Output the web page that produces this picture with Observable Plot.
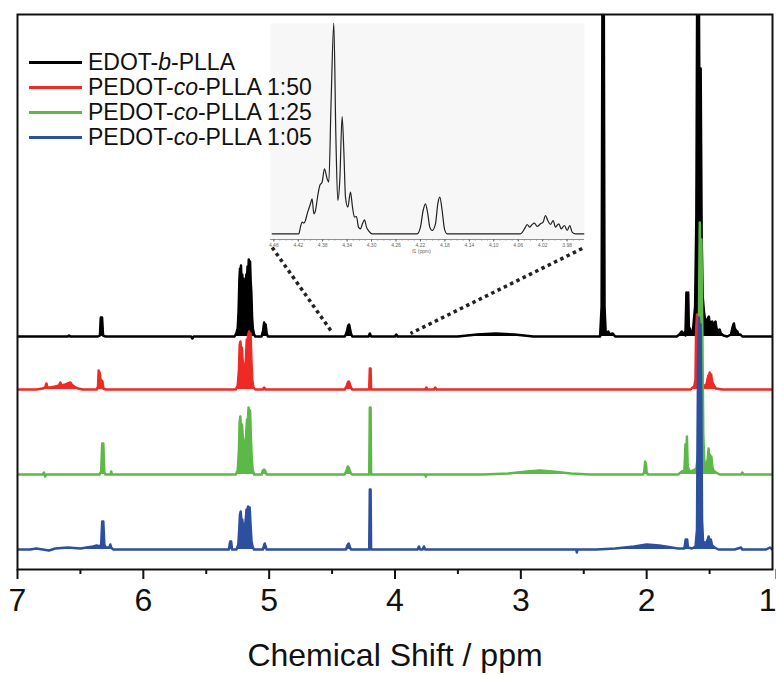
<!DOCTYPE html>
<html><head><meta charset="utf-8">
<script src="https://cdn.jsdelivr.net/npm/d3@7"></script>
<script src="https://cdn.jsdelivr.net/npm/@observablehq/plot@0.6"></script>
<style>
body{margin:0;background:#fff;}
#wrap{position:relative;width:776px;height:675px;font-family:"Liberation Sans",Arial,sans-serif;}
#inset{position:absolute;left:262px;top:18px;}
#legend{position:absolute;left:29px;top:50px;}
.row{display:flex;align-items:center;height:25px;font-size:23px;color:#111;white-space:nowrap;}
.sw{width:53px;height:2.5px;margin-right:6px;}
</style></head><body>
<div id="wrap"><div id="main"></div><div id="inset"></div><div id="legend"></div></div>
<script>
// ---- data ----
const seriesLabels = ["EDOT-<i>b</i>-PLLA", "PEDOT-<i>co</i>-PLLA 1:50", "PEDOT-<i>co</i>-PLLA 1:25", "PEDOT-<i>co</i>-PLLA 1:05"];
const seriesColors = ["#000000", "#ee2a24", "#5cb947", "#2d4fa0"];
const seriesOffsets = [233, 180, 95, 20];   // stacked baseline of each spectrum
const ppmTicks = [7, 6, 5, 4, 3, 2, 1];
const ppmMinorTicks = [6.5, 5.5, 4.5, 3.5, 2.5, 1.5];

// [chemical shift (ppm), intensity above baseline]
const blackSpectrum = [[7.0,0],[6.60,0],[6.59,1],[6.58,0],[6.36,0],[6.345,1],[6.338,19],[6.328,19],[6.32,1],[6.30,0],[5.62,0],[5.61,-2],[5.60,0],
[5.275,0],[5.262,3],[5.25,8],[5.243,25],[5.237,55],[5.232,68],[5.228,45],[5.224,71],[5.219,50],[5.214,62],[5.209,45],[5.204,58],[5.198,42],[5.192,55],[5.187,48],[5.182,62],[5.177,52],[5.172,70],[5.167,60],[5.162,77],[5.157,62],[5.152,75],[5.147,55],[5.142,45],[5.136,20],[5.130,8],[5.12,2],[5.11,0],
[5.06,0],[5.048,6],[5.04,14],[5.034,10],[5.028,12],[5.02,3],[5.01,0],
[4.40,0],[4.39,2],[4.38,6],[4.372,11],[4.365,12],[4.358,8],[4.35,3],[4.34,0],
[4.21,0],[4.2,3],[4.19,0],[4.00,0],[3.99,2],[3.98,0],
[3.50,0],[3.35,2],[3.2,3],[3.05,2],[2.90,0],
[2.37,0],[2.358,30],[2.35,400],[2.342,400],[2.335,30],[2.325,2],[2.305,5],[2.295,2],[2.27,3],[2.25,0],
[1.76,0],[1.74,2],[1.722,5],[1.712,2],[1.702,4],[1.692,1],[1.684,44],[1.677,5],[1.670,44],[1.664,4],[1.656,8],[1.646,3],
[1.632,6],[1.615,30],[1.605,120],[1.597,400],[1.587,400],[1.578,150],[1.571,268],[1.563,100],[1.555,40],[1.545,25],[1.535,15],[1.525,14],[1.515,18],[1.506,20],[1.498,12],[1.49,14],[1.479,15],[1.47,11],[1.462,13],[1.453,15],[1.445,8],[1.435,6],[1.42,7],[1.41,3],[1.39,1],[1.36,0],[1.33,2],[1.318,9],[1.307,13],[1.30,8],[1.29,6],[1.28,5],[1.27,2],[1.255,2],[1.24,0],[1.0,0]];

const redSpectrum = [[7.0,0],[6.85,0],[6.80,1],[6.78,2],[6.770,6],[6.762,2],[6.74,2],[6.70,3],[6.67,4],[6.66,7],[6.65,4],[6.62,5],[6.60,6],[6.58,7],[6.57,5],[6.55,3],[6.52,1],[6.48,0],
[6.37,0],[6.36,3],[6.355,19],[6.348,17],[6.340,10],[6.332,9],[6.325,8],[6.318,1],[6.30,0],
[5.265,0],[5.25,4],[5.24,20],[5.234,45],[5.228,48],[5.222,35],[5.217,42],[5.212,30],[5.205,22],[5.198,15],[5.192,20],[5.185,30],[5.178,50],[5.172,48],[5.166,55],[5.160,58],[5.154,52],[5.148,56],[5.142,33],[5.135,10],[5.125,2],[5.11,0],
[5.05,0],[5.04,2],[5.03,0],
[4.40,0],[4.385,3],[4.375,7],[4.367,8],[4.36,6],[4.35,2],[4.34,0],
[4.205,0],[4.2,21],[4.194,21],[4.19,0],
[3.76,0],[3.75,2],[3.745,0],[3.69,0],[3.68,2],[3.67,0],
[1.65,0],[1.635,2],[1.622,3],[1.612,10],[1.607,60],[1.600,75],[1.594,70],[1.587,72],[1.58,60],[1.57,20],[1.555,5],[1.53,3],[1.52,8],[1.51,14],[1.505,10],[1.50,17],[1.494,12],[1.488,15],[1.48,8],[1.47,5],[1.46,3],[1.45,1],[1.40,0],[1.0,0]];

const greenSpectrum = [[7.0,0],[6.80,0],[6.79,2],[6.78,-2],[6.77,0],[6.35,0],[6.335,3],[6.327,31],[6.318,31],[6.31,2],[6.30,0],[6.26,0],[6.255,3],[6.25,0],
[5.265,0],[5.25,4],[5.24,25],[5.235,52],[5.229,58],[5.222,40],[5.216,50],[5.21,38],[5.203,30],[5.196,22],[5.19,28],[5.183,40],[5.176,55],[5.17,52],[5.164,67],[5.158,60],[5.152,64],[5.146,40],[5.138,15],[5.13,4],[5.12,0],
[5.06,0],[5.05,4],[5.04,5],[5.03,3],[5.02,0],
[4.40,0],[4.385,4],[4.375,8],[4.368,7],[4.36,4],[4.35,1],[4.34,0],
[4.205,0],[4.2,67],[4.194,67],[4.19,0],
[3.76,0],[3.755,-2],[3.75,0],
[3.30,0],[3.10,1],[2.95,3],[2.85,4],[2.75,3],[2.60,1],[2.45,0],
[2.03,0],[2.02,2],[2.012,13],[2.005,10],[2.0,2],[1.99,0],
[1.75,0],[1.72,3],[1.70,4],[1.692,30],[1.688,6],[1.68,38],[1.674,8],[1.665,5],[1.65,3],[1.63,4],
[1.605,6],[1.592,20],[1.585,150],[1.578,252],[1.571,200],[1.565,235],[1.558,150],[1.55,40],[1.543,15],
[1.535,8],[1.525,10],[1.515,15],[1.508,26],[1.503,14],[1.498,20],[1.492,14],[1.486,18],[1.478,8],[1.468,4],[1.45,2],[1.42,0],[1.25,0],[1.24,2],[1.23,0],[1.0,0]];

const blueSpectrum = [[7.0,0],[6.9,0],[6.85,1],[6.8,0],[6.75,-1],[6.70,1],[6.6,2],[6.5,1],[6.45,2],[6.4,3],[6.37,4],[6.35,3],[6.335,5],[6.327,28],[6.318,28],[6.31,5],[6.30,2],[6.27,2],[6.262,5],[6.255,2],[6.24,0],
[5.32,0],[5.31,8],[5.302,8],[5.295,0],
[5.26,0],[5.245,5],[5.238,20],[5.232,35],[5.226,38],[5.22,28],[5.214,30],[5.208,24],[5.2,20],[5.193,22],[5.186,30],[5.18,40],[5.174,36],[5.168,43],[5.162,40],[5.155,42],[5.148,25],[5.14,8],[5.13,2],[5.12,0],
[5.05,0],[5.035,6],[5.028,3],[5.02,0],
[4.39,0],[4.375,5],[4.368,6],[4.36,3],[4.35,0],
[4.205,0],[4.2,60],[4.194,60],[4.19,0],
[3.82,0],[3.81,3],[3.80,0],[3.78,0],[3.77,3],[3.76,0],
[2.56,0],[2.555,-3],[2.55,0],
[2.40,0],[2.25,1],[2.10,3],[2.00,5],[1.90,4],[1.80,2],[1.75,1],
[1.70,1],[1.69,10],[1.685,3],[1.678,10],[1.672,2],[1.64,1],
[1.612,3],[1.600,20],[1.592,180],[1.585,232],[1.578,215],[1.572,225],[1.566,150],[1.56,30],[1.552,8],
[1.53,6],[1.515,10],[1.508,13],[1.50,8],[1.49,10],[1.48,4],[1.46,2],[1.43,0],[1.3,0],[1.25,2],[1.24,0],[1.05,0],[1.02,2],[1.0,0]];

const spectra = [blackSpectrum, redSpectrum, greenSpectrum, blueSpectrum];

// zoom-in guide lines: [ppm1, y1, ppm2, y2] on main chart
const zoomLinks = [[4.976, 322, 4.499, 237], [2.512, 321, 3.877, 236]];

// inset: expanded 4.46–3.96 ppm region of EDOT-b-PLLA
const insetTicks = [4.46, 4.42, 4.38, 4.34, 4.30, 4.26, 4.22, 4.18, 4.14, 4.10, 4.06, 4.02, 3.98];
const insetSpectrum = [[4.4627,0],[4.4191,0],[4.4164,6.7],[4.4136,11.7],[4.4109,10.7],[4.4082,13.3],[4.4054,20],[4.4027,25],[4.40,30],[4.3973,35],[4.3945,20],[4.3918,23.3],[4.388,38.3],[4.3847,48.3],[4.3809,51.7],[4.3771,65],[4.3727,55],[4.37,51.7],[4.3662,133],[4.3618,210.7],[4.3585,100],[4.3553,33.3],[4.352,53.3],[4.3482,117.3],[4.3454,83.3],[4.3427,36.7],[4.3389,26.7],[4.3345,41.7],[4.3312,26.7],[4.328,16.7],[4.3247,17.3],[4.3214,6.7],[4.3182,5],[4.3149,10],[4.3116,14],[4.3083,6.7],[4.3045,2.7],[4.2991,0],
[4.2254,0],[4.22,6.7],[4.2156,23.3],[4.2118,30],[4.208,20],[4.2047,6.7],[4.2009,3.3],[4.1954,10],[4.1916,30],[4.1883,36.7],[4.1845,23.3],[4.1807,5],[4.1763,0],
[4.0563,0],[4.0481,6.7],[4.0454,9.3],[4.041,6.7],[4.0372,9.3],[4.0334,10.7],[4.029,7.3],[4.0236,10],[4.0192,11.7],[4.0154,18.3],[4.0116,13.3],[4.0072,9.3],[4.0028,13.3],[3.999,6.7],[3.9936,10],[3.9897,5],[3.9843,8.3],[3.9799,3.3],[3.9756,8.3],[3.9717,1.7],[3.9663,0],[3.9526,0]];

// ---- main chart ----
const FONT = "Liberation Sans, Arial, sans-serif";
const specMarks = [];
spectra.forEach((pts, i) => {
  const d = pts.map(([ppm, h]) => ({ppm, y: seriesOffsets[i] + h, base: seriesOffsets[i]}));
  specMarks.push(Plot.areaY(d, {x: "ppm", y1: "base", y2: "y", fill: seriesColors[i], clip: true}));
  specMarks.push(Plot.line(d, {x: "ppm", y: "y", stroke: seriesColors[i], strokeWidth: 2.5, clip: true}));
});

const lastTick = ppmTicks[ppmTicks.length - 1];
const main = Plot.plot({
  width: 776, height: 675,
  marginLeft: 17, marginRight: 4, marginTop: 14, marginBottom: 106,
  style: {fontFamily: FONT, background: "white", color: "#111"},
  x: {domain: [7, 1]},
  y: {domain: [0, 555], axis: null},
  marks: [
    ...specMarks,
    Plot.link(zoomLinks, {x1: d => d[0], y1: d => d[1], x2: d => d[2], y2: d => d[3], stroke: "#222", strokeWidth: 3.5, strokeDasharray: "3.5,3.5"}),
    Plot.frame({stroke: "#111", strokeWidth: 2}),
    Plot.axisX({ticks: ppmTicks.filter(t => t !== lastTick), tickSize: 10, tickPadding: 9, fontSize: 32, strokeWidth: 2, label: null, tickFormat: d => String(d)}),
    Plot.axisX({ticks: [lastTick], tickSize: 10, tickPadding: 9, fontSize: 32, strokeWidth: 2, label: null, textAnchor: "end", dx: 4, tickFormat: d => String(d)}),
    Plot.axisX({ticks: ppmMinorTicks, tickSize: 5, strokeWidth: 2, fill: "none", label: null}),
    Plot.text(["Chemical Shift / ppm"], {frameAnchor: "bottom", dy: 96, fontSize: 32, lineAnchor: "bottom", fill: "#111"})
  ]
});
document.getElementById("main").appendChild(main);

// ---- inset ----
const insetMinor = d3.range(0, 51).map(i => +(4.46 - i * 0.01).toFixed(2));
const inset = Plot.plot({
  width: 330, height: 240,
  marginLeft: 8, marginRight: 8, marginTop: 5, marginBottom: 19,
  style: {fontFamily: FONT, background: "transparent"},
  x: {domain: [4.4654, 3.9515]},
  y: {domain: [-5.7, 210.3], axis: null},
  marks: [
    Plot.frame({fill: "#f7f7f7", stroke: "none"}),
    Plot.ruleY([-5.7], {stroke: "#777", strokeWidth: 0.8}),
    Plot.axisX({ticks: insetMinor, tickSize: 1.5, stroke: "#888", fill: "none", label: null}),
    Plot.axisX({ticks: insetTicks, tickSize: 2.5, tickPadding: 1.5, fontSize: 5, fill: "#666", stroke: "#666", label: null, tickFormat: d3.format(".2f")}),
    Plot.text(["f1 (ppm)"], {frameAnchor: "bottom", dy: 13, dx: -6, fontSize: 5, fill: "#666", lineAnchor: "bottom"}),
    Plot.line(insetSpectrum, {x: d => d[0], y: d => d[1], stroke: "#222", strokeWidth: 1.2, curve: "monotone-x"})
  ]
});
document.getElementById("inset").appendChild(inset);

// ---- legend ----
const leg = document.getElementById("legend");
seriesLabels.forEach((lab, i) => {
  const r = document.createElement("div");
  r.className = "row";
  r.innerHTML = `<span class="sw" style="background:${seriesColors[i]}"></span><span>${lab}</span>`;
  leg.appendChild(r);
});
</script>
</body></html>
